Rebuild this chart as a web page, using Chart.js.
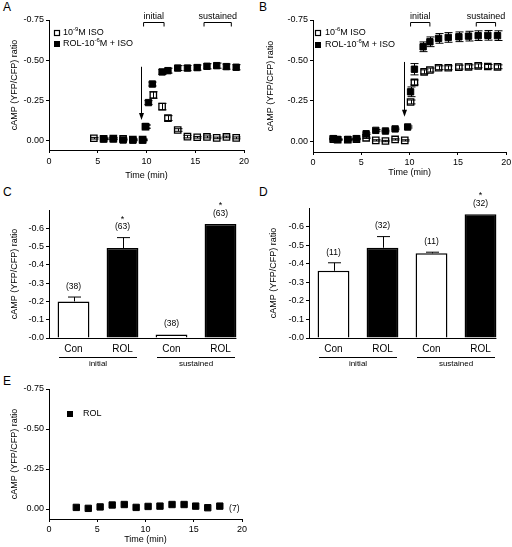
<!DOCTYPE html>
<html>
<head>
<meta charset="utf-8">
<script src="https://cdn.jsdelivr.net/npm/chart.js@4.4.1/dist/chart.umd.min.js"></script>
<style>
    body { margin: 0; width: 512px; height: 547px; position: relative; background: #fff; overflow: hidden;
           font-family: "Liberation Sans", Arial, sans-serif; }
    canvas { position: absolute; }
    .panel { position: absolute; font-size: 12px; line-height: 12px; color: #000; }
</style>
</head>
<body>
<div class="panel" style="left:3px;top:1px">A</div>
<div class="panel" style="left:259px;top:1px">B</div>
<div class="panel" style="left:3px;top:186px">C</div>
<div class="panel" style="left:259px;top:186px">D</div>
<div class="panel" style="left:3px;top:375px">E</div>

<canvas id="chartA" width="256" height="190" style="left:0;top:0"></canvas>
<canvas id="chartB" width="256" height="190" style="left:256px;top:0"></canvas>
<canvas id="chartC" width="256" height="185" style="left:0;top:190px"></canvas>
<canvas id="chartD" width="256" height="185" style="left:256px;top:190px"></canvas>
<canvas id="chartE" width="256" height="172" style="left:0;top:375px"></canvas>

<script>
// ---- shared ticks ----
const timeTicks = [0, 5, 10, 15, 20];
const ratioTicks = [-0.75, -0.5, -0.25, 0];
const barTicks = [-0.6, -0.5, -0.4, -0.3, -0.2, -0.1, 0];

// ---- panel A: 10^-9 M ISO with / without ROL ----
const isoTimeA  = [4.6, 5.6, 6.6, 7.6, 8.6, 9.6, 9.9, 10.7, 11.6, 12.2, 13.2, 14.2, 15.2, 16.2, 17.2, 18.2, 19.2];
const isoRatioA = [-0.017, -0.014, -0.015, -0.013, -0.009, -0.008, -0.088, -0.285, -0.213, -0.142, -0.068, -0.027, -0.023, -0.025, -0.019, -0.025, -0.019];
const isoErrA   = [0.005, 0.005, 0.005, 0.005, 0.005, 0.005, 0.01, 0.02, 0.02, 0.015, 0.008, 0.008, 0.005, 0.006, 0.005, 0.005, 0.006];
const rolTimeA  = [5.6, 6.6, 7.6, 8.6, 9.6, 9.9, 10.2, 10.6, 11.6, 12.2, 13.2, 14.2, 15.2, 16.2, 17.2, 18.2, 19.2];
const rolRatioA = [-0.012, -0.013, -0.006, -0.005, -0.005, -0.09, -0.238, -0.353, -0.428, -0.436, -0.452, -0.452, -0.455, -0.463, -0.467, -0.461, -0.457];
const rolErrA   = [0.004, 0.005, 0.005, 0.004, 0.004, 0.01, 0.012, 0.012, 0.015, 0.015, 0.015, 0.016, 0.016, 0.016, 0.016, 0.016, 0.016];

// ---- panel B ----
const isoTimeB  = [2.1, 2.55, 3.6, 4.5, 5.5, 6.5, 7.5, 8.5, 9.5, 10.1, 10.5, 11.5, 12.1, 13.0, 14.0, 15.1, 16.1, 17.1, 18.1, 19.1];
const isoRatioB = [-0.012, -0.008, -0.008, -0.012, -0.02, -0.004, 0.0, -0.01, -0.004, -0.242, -0.363, -0.429, -0.44, -0.454, -0.454, -0.458, -0.46, -0.466, -0.462, -0.46];
const isoErrB   = [0.003, 0.003, 0.003, 0.003, 0.004, 0.004, 0.004, 0.004, 0.004, 0.012, 0.015, 0.012, 0.012, 0.012, 0.012, 0.012, 0.012, 0.012, 0.012, 0.012];
const rolTimeB  = [2.1, 2.55, 3.6, 4.5, 5.5, 6.5, 7.5, 8.5, 9.8, 10.1, 10.5, 11.4, 12.1, 13.0, 14.0, 15.1, 16.1, 17.1, 18.1, 19.1];
const rolRatioB = [-0.015, -0.01, -0.01, -0.015, -0.045, -0.066, -0.062, -0.075, -0.087, -0.305, -0.445, -0.584, -0.615, -0.636, -0.642, -0.646, -0.65, -0.653, -0.655, -0.653];
const rolErrB   = [0.003, 0.003, 0.003, 0.003, 0.005, 0.005, 0.005, 0.005, 0.006, 0.03, 0.035, 0.03, 0.03, 0.03, 0.03, 0.03, 0.03, 0.03, 0.03, 0.03];

// ---- panels C and D: bar summaries ----
const barCats = ["Con", "ROL", "Con", "ROL"];
const barGroups = ["initial", "sustained"];
const ratioC = [-0.2, -0.492, -0.019, -0.624];
const errC   = [0.024, 0.057, 0, 0];
const nC     = ["(38)", "(63)", "(38)", "(63)"];
const starC  = ["", "*", "", "*"];
const ratioD = [-0.362, -0.486, -0.456, -0.667];
const errD   = [0.043, 0.06, 0.006, 0];
const nD     = ["(11)", "(32)", "(11)", "(32)"];
const starD  = ["", "", "", "*"];

// ---- panel E: ROL alone ----
const rolTimeE  = [2.83, 4.07, 5.3, 6.55, 7.8, 9.03, 10.27, 11.5, 12.75, 14.0, 15.2, 16.45, 17.7];
const rolRatioE = [-0.01, -0.004, -0.013, -0.025, -0.028, -0.01, -0.016, -0.018, -0.028, -0.028, -0.018, -0.008, -0.018];
const nE = "(7)";

// arrows (ISO addition) and averaging windows, in data units
const arrowA = { x: 9.4, from: -0.46, to: -0.13 };
const arrowB = { x: 9.45, from: -0.49, to: -0.15 };
const windowsA = [{ from: 9.7, to: 11.8, y: -0.74, text: "initial" }, { from: 15.9, to: 18.7, y: -0.74, text: "sustained" }];
const windowsB = [{ from: 10.1, to: 12.1, y: -0.74, text: "initial" }, { from: 16.9, to: 18.9, y: -0.74, text: "sustained" }];

const FONT = "'Liberation Sans', Arial, sans-serif";
Chart.defaults.font.family = FONT;
Chart.defaults.color = "#000";

// error bars: symmetric for points, one-sided (upwards) for bars
const errorBars = {
    id: "errorBars",
    afterDatasetsDraw(chart) {
        const ctx = chart.ctx, y = chart.scales.y;
        ctx.save();
        ctx.strokeStyle = "#000";
        ctx.lineWidth = 1;
        chart.data.datasets.forEach((ds, i) => {
            if (!ds.errors) return;
            const meta = chart.getDatasetMeta(i);
            const isBar = meta.type === "bar";
            meta.data.forEach((el, j) => {
                const e = ds.errors[j];
                if (!e) return;
                const v = typeof ds.data[j] === "number" ? ds.data[j] : ds.data[j].y;
                const x = Math.round(el.x) + 0.5;
                const yTop = y.getPixelForValue(v - e);
                const yBot = isBar ? y.getPixelForValue(v) : y.getPixelForValue(v + e);
                const cap = isBar ? 6.5 : 4;
                ctx.beginPath();
                ctx.moveTo(x, yTop); ctx.lineTo(x, yBot);
                ctx.moveTo(x - cap, yTop); ctx.lineTo(x + cap, yTop);
                if (!isBar) { ctx.moveTo(x - cap, yBot); ctx.lineTo(x + cap, yBot); }
                ctx.stroke();
            });
        });
        ctx.restore();
    }
};

// text with superscripts: parts are strings or {sup: "..."}
function drawRich(ctx, parts, x, y) {
    parts.forEach(p => {
        if (typeof p === "string") {
            ctx.font = "9px " + FONT;
            ctx.fillText(p, x, y);
            x += ctx.measureText(p).width;
        } else {
            ctx.font = "6px " + FONT;
            ctx.fillText(p.sup, x, y - 3.5);
            x += ctx.measureText(p.sup).width;
        }
    });
}

function legendPlugin(items) {
    return {
        id: "legendBox",
        afterDraw(chart) {
            const ctx = chart.ctx;
            ctx.save();
            ctx.textBaseline = "middle";
            ctx.textAlign = "left";
            ctx.fillStyle = "#000";
            items.forEach(it => {
                if (it.open) {
                    ctx.fillStyle = "#fff";
                    ctx.fillRect(it.x - 2.5, it.y - 2.5, 5, 5);
                    ctx.strokeStyle = "#000";
                    ctx.lineWidth = 1.2;
                    ctx.strokeRect(it.x - 2.5, it.y - 2.5, 5, 5);
                } else {
                    ctx.fillStyle = "#000";
                    ctx.fillRect(it.x - 3, it.y - 3, 6, 6);
                }
                ctx.fillStyle = "#000";
                drawRich(ctx, it.text, it.tx, it.y);
            });
            ctx.restore();
        }
    };
}

// arrow at drug addition plus averaging brackets
function timeMarks(arrow, windows) {
    return {
        id: "timeMarks",
        afterDraw(chart) {
            const { ctx, scales: { x, y } } = chart;
            ctx.save();
            ctx.strokeStyle = "#000";
            ctx.fillStyle = "#000";
            ctx.lineWidth = 1;
            const ax = Math.round(x.getPixelForValue(arrow.x)) + 0.5;
            const y0 = y.getPixelForValue(arrow.from), y1 = y.getPixelForValue(arrow.to);
            ctx.beginPath(); ctx.moveTo(ax, y0); ctx.lineTo(ax, y1 - 6); ctx.stroke();
            ctx.beginPath(); ctx.moveTo(ax - 2.5, y1 - 7); ctx.lineTo(ax + 2.5, y1 - 7); ctx.lineTo(ax, y1); ctx.closePath(); ctx.fill();
            ctx.font = "9px " + FONT;
            ctx.textAlign = "center";
            ctx.textBaseline = "alphabetic";
            windows.forEach(w => {
                const bx0 = x.getPixelForValue(w.from), bx1 = x.getPixelForValue(w.to);
                const by = Math.round(y.getPixelForValue(w.y)) + 0.5;
                ctx.beginPath();
                ctx.moveTo(bx0, by + 4); ctx.lineTo(bx0, by); ctx.lineTo(bx1, by); ctx.lineTo(bx1, by + 4);
                ctx.stroke();
                ctx.fillText(w.text, (bx0 + bx1) / 2, by - 3.5);
            });
            ctx.restore();
        }
    };
}

// n-numbers, significance stars, axis line and group labels for bar panels
function barNotes(nLabels, stars, groups) {
    return {
        id: "barNotes",
        afterDraw(chart) {
            const { ctx, scales: { y }, chartArea } = chart;
            const ds = chart.data.datasets[0], meta = chart.getDatasetMeta(0);
            const last = meta.data[meta.data.length - 1];
            const y0 = Math.round(y.getPixelForValue(0)) + 0.5;
            ctx.save();
            ctx.strokeStyle = "#000";
            ctx.fillStyle = "#000";
            ctx.lineWidth = 1;
            ctx.beginPath(); ctx.moveTo(chartArea.left, y0); ctx.lineTo(last.x + last.width / 2, y0); ctx.stroke();
            ctx.textAlign = "center";
            meta.data.forEach((el, i) => {
                const top = y.getPixelForValue(ds.data[i] - (ds.errors[i] || 0));
                ctx.font = "8.5px " + FONT;
                ctx.textBaseline = "middle";
                ctx.fillText(nLabels[i], el.x, top - 10.5);
                if (stars[i]) {
                    ctx.font = "9px " + FONT;
                    ctx.textBaseline = "alphabetic";
                    ctx.fillText(stars[i], el.x, top - 16);
                }
            });
            ctx.font = "8px " + FONT;
            ctx.textBaseline = "middle";
            groups.forEach((g, k) => {
                const cx = (meta.data[2 * k].x + meta.data[2 * k + 1].x) / 2;
                const ly = Math.round(chartArea.bottom + 19) + 0.5;
                ctx.beginPath(); ctx.moveTo(cx - 39, ly); ctx.lineTo(cx + 39, ly); ctx.stroke();
                ctx.fillText(g, cx, chartArea.bottom + 25.5);
            });
            ctx.restore();
        }
    };
}

function ratioAxis(min, max, ticks, fmt, width, titlePad) {
    return {
        type: "linear", reverse: true, min: min, max: max,
        afterBuildTicks: s => { s.ticks = ticks.map(v => ({ value: v })); },
        afterFit: s => { s.width = width; s.paddingTop = 0; s.paddingBottom = 0; },
        border: { color: "#000", width: 1 },
        grid: { drawOnChartArea: false, tickLength: 3, color: "#000" },
        ticks: { padding: 2, color: "#000", font: { size: 9 }, callback: fmt },
        title: { display: true, text: "cAMP (YFP/CFP) ratio", color: "#000", font: { size: 9 }, padding: { top: titlePad, bottom: 0 } }
    };
}

function timeAxis(height, tickPad, titlePad) {
    return {
        type: "linear", min: 0, max: 20,
        afterBuildTicks: s => { s.ticks = timeTicks.map(v => ({ value: v })); },
        afterFit: s => { s.height = height; s.paddingLeft = 0; s.paddingRight = 0; },
        border: { color: "#000", width: 1 },
        grid: { drawOnChartArea: false, tickLength: 3, color: "#000" },
        ticks: { padding: tickPad, color: "#000", font: { size: 9 }, maxRotation: 0 },
        title: { display: true, text: "Time (min)", color: "#000", font: { size: 9 }, padding: { top: 0, bottom: titlePad } }
    };
}

function pointSet(label, times, ratios, errors, open) {
    return {
        label: label,
        data: times.map((t, i) => ({ x: t, y: ratios[i] })),
        errors: errors,
        pointStyle: "rect",
        pointRadius: 4.5,
        pointBorderWidth: open ? 1.3 : 1,
        pointBackgroundColor: open ? "#fff" : "#000",
        pointBorderColor: "#000",
        showLine: false
    };
}

const fmt2 = v => v.toFixed(2);
const fmt1 = v => "-" + Math.abs(v).toFixed(1);
const quiet = { legend: { display: false }, tooltip: { enabled: false } };

// Panel A
new Chart(document.getElementById("chartA"), {
    type: "scatter",
    data: { datasets: [
        pointSet("ROL-10-6M + ISO", rolTimeA, rolRatioA, rolErrA, false),
        pointSet("10-9M ISO", isoTimeA, isoRatioA, isoErrA, true)
    ] },
    options: {
        responsive: false, animation: false, events: [],
        layout: { padding: { left: 0, right: 12, top: 20, bottom: 0 } },
        plugins: quiet,
        scales: { x: timeAxis(40, 3.6, 8.6), y: ratioAxis(-0.75, 0.056, ratioTicks, fmt2, 49, 9.6) }
    },
    plugins: [errorBars, timeMarks(arrowA, windowsA), legendPlugin([
        { x: 57, y: 33, tx: 63, open: true, text: ["10", { sup: "-9" }, "M ISO"] },
        { x: 57, y: 44, tx: 63, open: false, text: ["ROL-10", { sup: "-6" }, "M + ISO"] }
    ])]
});

// Panel B
new Chart(document.getElementById("chartB"), {
    type: "scatter",
    data: { datasets: [
        pointSet("ROL-10-6M + ISO", rolTimeB, rolRatioB, rolErrB, false),
        pointSet("10-6M ISO", isoTimeB, isoRatioB, isoErrB, true)
    ] },
    options: {
        responsive: false, animation: false, events: [],
        layout: { padding: { left: 0, right: 3, top: 20, bottom: 0 } },
        plugins: quiet,
        scales: { x: timeAxis(38, 2.6, 11.6), y: ratioAxis(-0.75, 0.068, ratioTicks, fmt2, 57, 9.6) }
    },
    plugins: [errorBars, timeMarks(arrowB, windowsB), legendPlugin([
        { x: 62, y: 33, tx: 69, open: true, text: ["10", { sup: "-6" }, "M ISO"] },
        { x: 62, y: 45, tx: 69, open: false, text: ["ROL-10", { sup: "-6" }, "M + ISO"] }
    ])]
});

function barChart(id, values, errors, nLabels, stars, pad, yWidth, titlePad) {
    return new Chart(document.getElementById(id), {
        type: "bar",
        data: {
            labels: barCats,
            datasets: [{
                data: values,
                errors: errors,
                backgroundColor: ["#fff", "#000", "#fff", "#000"],
                borderColor: "#000",
                borderWidth: 1.5,
                barPercentage: 0.65,
                categoryPercentage: 1
            }]
        },
        options: {
            responsive: false, animation: false, events: [],
            layout: { padding: pad },
            plugins: quiet,
            scales: {
                x: {
                    type: "category", offset: true,
                    afterFit: s => { s.height = 37; s.paddingLeft = 0; s.paddingRight = 0; },
                    border: { display: false },
                    grid: { display: false, drawTicks: false },
                    ticks: { padding: 5, color: "#000", font: { size: 10 }, maxRotation: 0 }
                },
                y: ratioAxis(-0.7, 0, barTicks, fmt1, yWidth, titlePad)
            }
        },
        plugins: [errorBars, barNotes(nLabels, stars, barGroups)]
    });
}

// Panels C and D
barChart("chartC", ratioC, errC, nC, starC, { left: 0, right: 11, top: 20, bottom: 0 }, 49, 9.6);
barChart("chartD", ratioD, errD, nD, starD, { left: 0, right: 7, top: 18, bottom: 0 }, 53, 12.6);

// Panel E
new Chart(document.getElementById("chartE"), {
    type: "scatter",
    data: { datasets: [pointSet("ROL", rolTimeE, rolRatioE, null, false)] },
    options: {
        responsive: false, animation: false, events: [],
        layout: { padding: { left: 0, right: 14, top: 14, bottom: 0 } },
        plugins: quiet,
        scales: { x: timeAxis(28, 2.6, 1.6), y: ratioAxis(-0.75, 0.0625, ratioTicks, fmt2, 49, 9.6) }
    },
    plugins: [legendPlugin([{ x: 70, y: 39, tx: 83, open: false, text: ["ROL"] }]), {
        id: "nLabel",
        afterDraw(chart) {
            const { ctx, scales: { x, y } } = chart;
            ctx.save();
            ctx.font = "8.5px " + FONT;
            ctx.fillStyle = "#000";
            ctx.textAlign = "center";
            ctx.textBaseline = "middle";
            ctx.fillText(nE, x.getPixelForValue(19.2), y.getPixelForValue(-0.004));
            ctx.restore();
        }
    }]
});
</script>
</body>
</html>
